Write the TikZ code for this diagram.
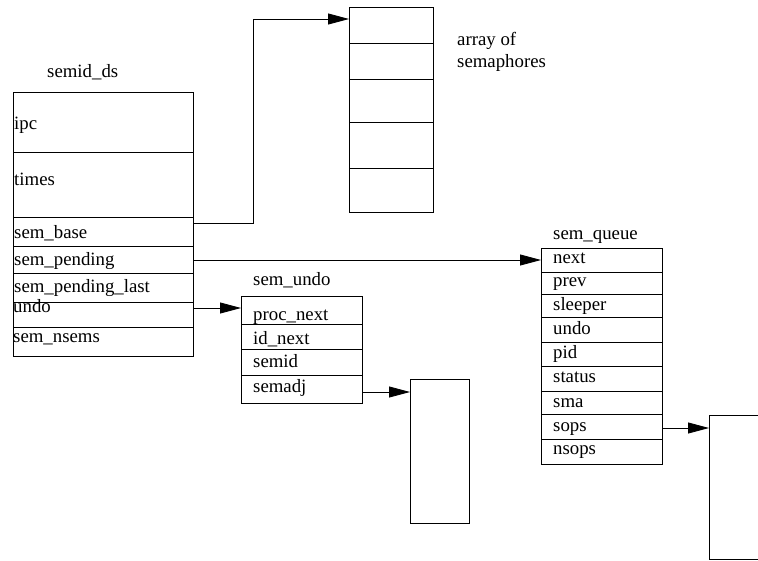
\documentclass[tikz,border=0pt]{standalone}
\usepackage{fontspec}
\setmainfont{Liberation Serif}
\usetikzlibrary{arrows.meta}
\begin{document}
\begin{tikzpicture}[x=1pt,y=-1pt,
  rowbox/.style={draw,line width=0.8pt,inner sep=0pt,anchor=north west},
  txt/.style={inner sep=0pt,anchor=base west,yshift=-1.5pt,font=\fontsize{18.8}{22}\selectfont},
  arr/.style={line width=0.8pt,-{Triangle[length=21pt,width=11pt]}}]
\clip (0,0) rectangle (758,560);
\fill[white] (0,0) rectangle (758,560);
% ---------- semid_ds ----------
\node[txt] (lds) at (47,76) {semid\_ds};
\node[rowbox,minimum width=180pt,minimum height=60pt] (dsipc) at (13,92) {};
\node[rowbox,minimum width=180pt,minimum height=65pt] (dstimes) at (13,152) {};
\node[rowbox,minimum width=180pt,minimum height=29pt] (dsbase) at (13,217) {};
\node[rowbox,minimum width=180pt,minimum height=27pt] (dspend) at (13,246) {};
\node[rowbox,minimum width=180pt,minimum height=29pt] (dslast) at (13,273) {};
\node[rowbox,minimum width=180pt,minimum height=25pt] (dsundo) at (13,302) {};
\node[rowbox,minimum width=180pt,minimum height=29pt] (dsnsems) at (13,327) {};
\node[txt] (tipc) at (14,128) {ipc};
\node[txt] (ttimes) at (14,184) {times};
\node[txt] (tbase) at (14,237) {sem\_base};
\node[txt] (tpend) at (14,264) {sem\_pending};
\node[txt] (tlast) at (14,291) {sem\_pending\_last};
\node[txt] (tundo) at (13,311) {undo};
\node[txt] (tnsems) at (13,341) {sem\_nsems};
% ---------- array of semaphores ----------
\node[rowbox,minimum width=84pt,minimum height=36pt] (a0) at (349,7) {};
\node[rowbox,minimum width=84pt,minimum height=36pt] (a1) at (349,43) {};
\node[rowbox,minimum width=84pt,minimum height=43pt] (a2) at (349,79) {};
\node[rowbox,minimum width=84pt,minimum height=46pt] (a3) at (349,122) {};
\node[rowbox,minimum width=84pt,minimum height=44pt] (a4) at (349,168) {};
\node[txt] (larr1) at (457,44) {array of};
\node[txt] (larr2) at (457,66) {semaphores};
% ---------- sem_queue ----------
\node[txt] (lq) at (553,238) {sem\_queue};
\node[rowbox,minimum width=121pt,minimum height=24pt] (qnext) at (541,248) {};
\node[rowbox,minimum width=121pt,minimum height=22pt] (qprev) at (541,272) {};
\node[rowbox,minimum width=121pt,minimum height=23pt] (qsleep) at (541,294) {};
\node[rowbox,minimum width=121pt,minimum height=25pt] (qundo) at (541,317) {};
\node[rowbox,minimum width=121pt,minimum height=24pt] (qpid) at (541,342) {};
\node[rowbox,minimum width=121pt,minimum height=25pt] (qstat) at (541,366) {};
\node[rowbox,minimum width=121pt,minimum height=23pt] (qsma) at (541,391) {};
\node[rowbox,minimum width=121pt,minimum height=25pt] (qsops) at (541,414) {};
\node[rowbox,minimum width=121pt,minimum height=25pt] (qnsops) at (541,439) {};
\node[txt] (tnext) at (553,262) {next};
\node[txt] (tprev) at (553,285) {prev};
\node[txt] (tsleep) at (553,309) {sleeper};
\node[txt] (tqundo) at (553,333) {undo};
\node[txt] (tpid) at (553,357) {pid};
\node[txt] (tstat) at (553,381) {status};
\node[txt] (tsma) at (553,406) {sma};
\node[txt] (tsops) at (553,430) {sops};
\node[txt] (tnsops) at (553,453) {nsops};
% ---------- sem_undo ----------
\node[txt] (lu) at (253,284) {sem\_undo};
\node[rowbox,minimum width=121pt,minimum height=28pt] (uproc) at (241,296) {};
\node[rowbox,minimum width=121pt,minimum height=25pt] (uid) at (241,324) {};
\node[rowbox,minimum width=121pt,minimum height=26pt] (usemid) at (241,349) {};
\node[rowbox,minimum width=121pt,minimum height=28pt] (uadj) at (241,375) {};
\node[txt] (tproc) at (253,319) {proc\_next};
\node[txt] (tid) at (253,343) {id\_next};
\node[txt] (tsemid) at (253,366) {semid};
\node[txt] (tadj) at (253,391) {semadj};
% ---------- target boxes ----------
\node[rowbox,minimum width=59pt,minimum height=144pt] (adjbox) at (410,379) {};
\node[rowbox,minimum width=80pt,minimum height=144pt] (sopsbox) at (709,415) {};
% ---------- connectors ----------
\coordinate (bend) at (253,223);
\draw[arr] (dsbase.east |- bend) -- (bend) |- (a0.west |- 0,19);
\draw[arr] (dspend.east |- 0,260) -- (qnext.west |- 0,260);
\draw[arr] (dsundo.east |- 0,308) -- (uproc.west |- 0,308);
\draw[arr] (uadj.east |- 0,392) -- (adjbox.west |- 0,392);
\draw[arr] (qsops.east |- 0,428) -- (sopsbox.west |- 0,428);
\end{tikzpicture}
\end{document}
